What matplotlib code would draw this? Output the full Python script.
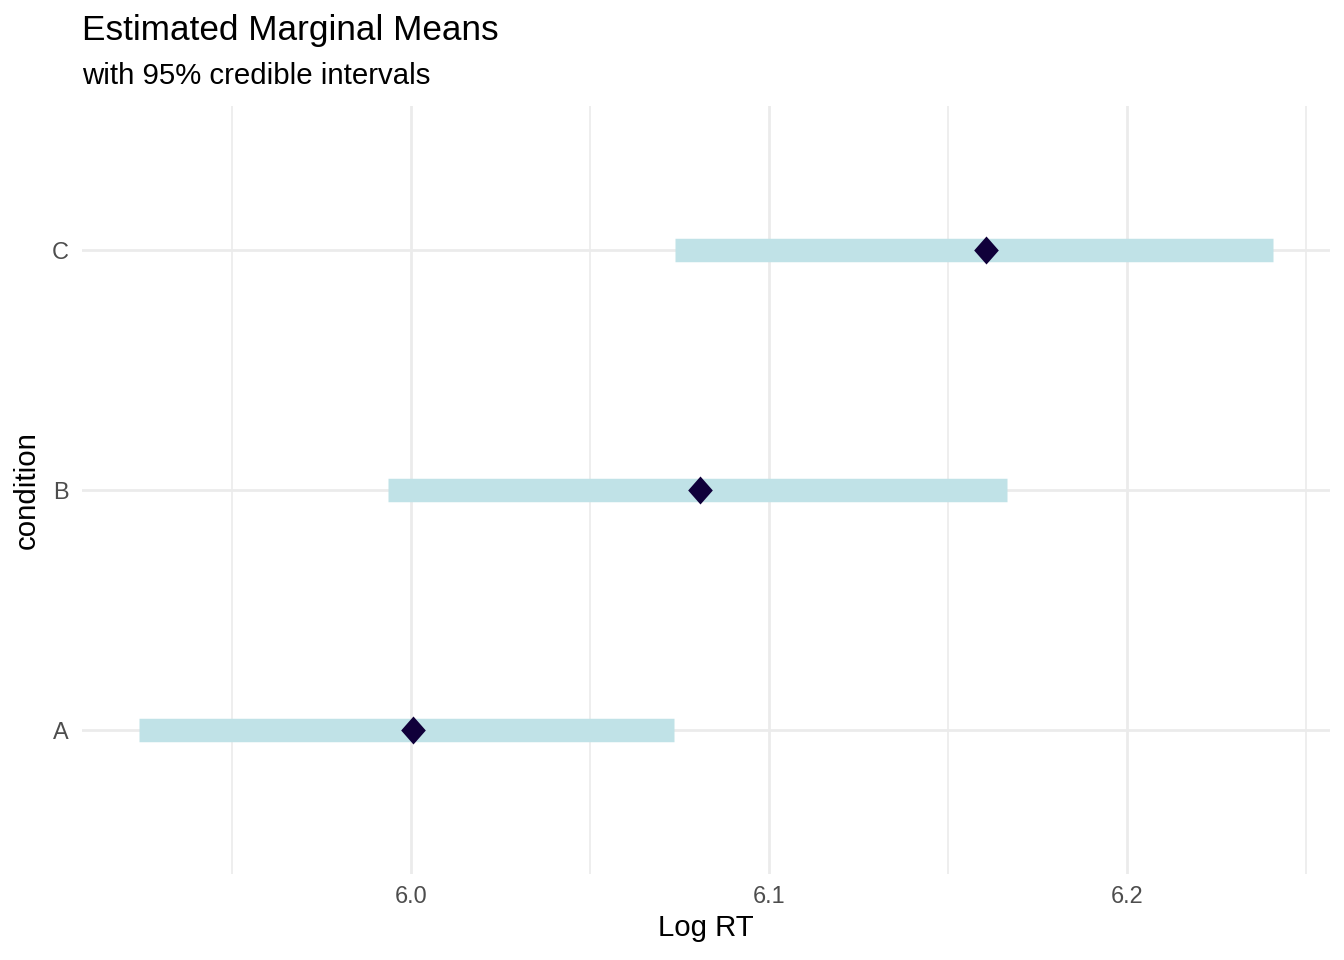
import matplotlib.pyplot as plt
from matplotlib.ticker import FixedLocator

# estimated marginal means (log RT) with 95% credible intervals
conditions = ["A", "B", "C"]
emmean = [6.0006, 6.0807, 6.1606]
lower = [5.9240, 5.9936, 6.0737]
upper = [6.0735, 6.1665, 6.2408]

major_ticks = [6.0, 6.1, 6.2]
minor_ticks = [5.95, 6.05, 6.15, 6.25]

BAR_COLOR = "#C0E2E7"
POINT_COLOR = "#10003A"
GRID_COLOR = "#EBEBEB"

plt.rcParams['font.family'] = ['Liberation Sans', 'DejaVu Sans']

fig = plt.figure(figsize=(7, 5), dpi=192)
ax = fig.add_axes([82 / 1344, 86 / 960, 1248 / 1344, 768 / 960])

ypos = list(range(1, len(conditions) + 1))

for y, lo, hi in zip(ypos, lower, upper):
    ax.plot([lo, hi], [y, y], color=BAR_COLOR, linewidth=8.8,
            solid_capstyle='butt', zorder=2)

diamond = [(0, 1), (0.88, 0), (0, -1), (-0.88, 0), (0, 1)]
ax.plot(emmean, ypos, linestyle='none', marker=diamond, markersize=10.5,
        color=POINT_COLOR, markeredgewidth=0, zorder=3)

# ggplot-like expansion
xmin, xmax = min(lower), max(upper)
pad = (xmax - xmin) * 0.05
ax.set_xlim(xmin - pad, xmax + pad)
ax.set_ylim(0.4, len(conditions) + 0.6)

ax.xaxis.set_major_locator(FixedLocator(major_ticks))
ax.xaxis.set_minor_locator(FixedLocator(minor_ticks))
ax.set_xticklabels(["{:.1f}".format(t) for t in major_ticks])
ax.set_yticks(ypos)
ax.set_yticklabels(conditions)

ax.grid(which='major', color=GRID_COLOR, linewidth=1.05, zorder=0)
ax.grid(which='minor', axis='x', color=GRID_COLOR, linewidth=0.6, zorder=0)
ax.set_axisbelow(True)

for s in ax.spines.values():
    s.set_visible(False)
ax.tick_params(which='both', length=0)
ax.tick_params(axis='x', labelsize=8.8, labelcolor='#4D4D4D', pad=4)
ax.tick_params(axis='y', labelsize=8.8, labelcolor='#4D4D4D', pad=5)

ax.set_xlabel("Log RT", fontsize=11, labelpad=2.5)
ax.set_ylabel("condition", fontsize=11, labelpad=4)

fig.text(82 / 1344, 1 - 40 / 960, "Estimated Marginal Means", fontsize=13.2,
         ha='left', va='baseline')
fig.text(82 / 1344, 1 - 84 / 960, "with 95% credible intervals", fontsize=11,
         ha='left', va='baseline')

fig.savefig("out.png", dpi=192, facecolor='white')
